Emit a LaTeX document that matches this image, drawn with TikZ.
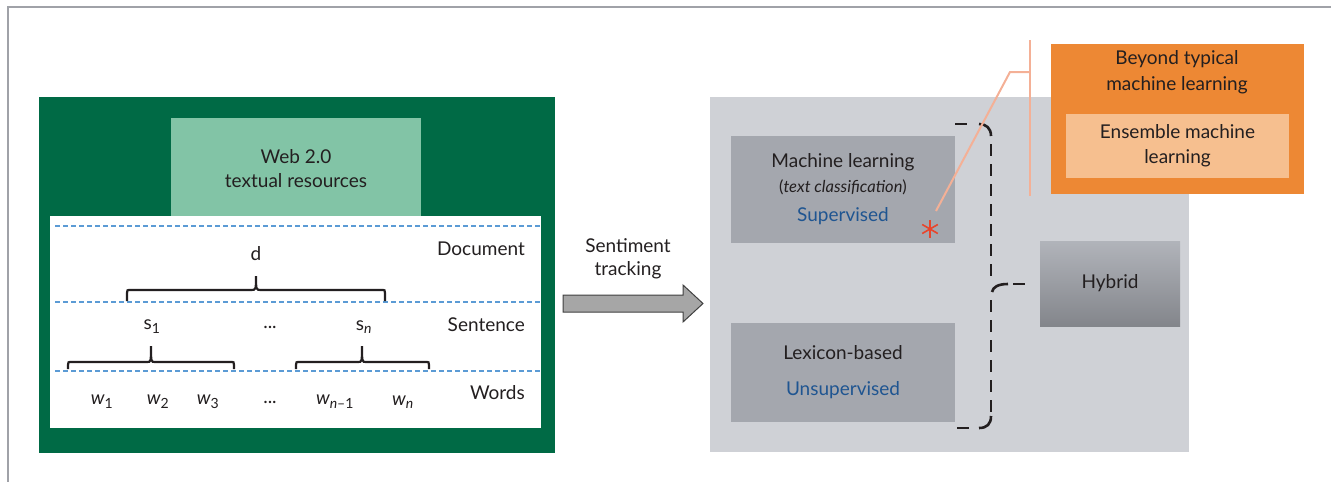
\documentclass[tikz,border=0pt]{standalone}
\usepackage{fontspec}
\setmainfont{Lato}
\usetikzlibrary{calc}
\definecolor{dgreen}{RGB}{0,106,69}
\definecolor{lgreen}{RGB}{130,196,166}
\definecolor{panel}{RGB}{207,209,214}
\definecolor{boxgray}{RGB}{164,167,174}
\definecolor{txt}{RGB}{35,31,32}
\definecolor{blu}{RGB}{31,85,145}
\definecolor{dashblue}{RGB}{91,155,213}
\definecolor{orng}{RGB}{237,136,52}
\definecolor{lorng}{RGB}{246,191,143}
\definecolor{lineorng}{RGB}{244,176,150}
\definecolor{astred}{RGB}{232,69,44}
\definecolor{framegray}{RGB}{160,162,168}
\begin{document}
\begin{tikzpicture}[x=1pt,y=-1pt,
  txtf/.style={text=txt,font=\fontsize{19}{23}\selectfont,inner sep=0pt,align=center},
  lvl/.style={dashblue,line width=1.8pt,dash pattern=on 5pt off 3pt},
  brc/.style={line width=2.2pt,txt},
  dbrc/.style={line width=2.6pt,txt,dash pattern=on 12pt off 8pt,line cap=butt},
  sbrc/.style={line width=2.6pt,txt,line cap=butt},
  boxf/.style={fill=boxgray,draw=none}]
\useasboundingbox (0,0) rectangle (1331,482);
% frame
\draw[framegray,line width=1.5pt] (8,482) -- (8,7) -- (1331,7);
% left: green
\fill[dgreen] (39,97) rectangle (555,453);
\node[fill=lgreen,minimum width=250pt,minimum height=98pt,anchor=north west,inner sep=0pt] (web) at (171,118) {};
\node[txtf] at (296,157) {Web 2.0};
\node[txtf] at (296,181) {textual resources};
\node[fill=white,minimum width=491pt,minimum height=212pt,anchor=north west,inner sep=0pt] (levels) at (50,216) {};
\draw[lvl] (55,226) -- (540,226);
\draw[lvl] (55,302) -- (540,302);
\draw[lvl] (55,371) -- (540,371);
\node[txtf,anchor=east] (doc) at (525,249) {Document};
\node[txtf,anchor=east] (sen) at (525,325) {Sentence};
\node[txtf,anchor=east] (wor) at (525,393) {Words};
\node[txtf] (d) at (256,254) {d};
\draw[brc] (127,301) -- (127,293) .. controls (127,290) .. (131,290) -- (251,290) .. controls (256,290) .. (256,276) .. controls (256,290) .. (261,290) -- (381,290) .. controls (385,290) .. (385,293) -- (385,301);
\node[txtf] (s1) at (152,327) {s\textsubscript{\fontsize{14}{14}\selectfont 1}};
\node[txtf] (sd) at (270,327) {...};
\node[txtf] (sn) at (364,327) {s\textsubscript{\fontsize{14}{14}\selectfont\itshape n}};
\draw[brc] (68,369) -- (68,365) .. controls (68,362) .. (72,362) -- (147,362) .. controls (151,362) .. (151,346) .. controls (151,362) .. (155,362) -- (230,362) .. controls (234,362) .. (234,365) -- (234,369);
\draw[brc] (296,369) -- (296,365) .. controls (296,362) .. (300,362) -- (358,362) .. controls (362,362) .. (362,346) .. controls (362,362) .. (366,362) -- (425,362) .. controls (429,362) .. (429,365) -- (429,369);
\node[txtf] (w1) at (102,402) {\itshape w\textsubscript{\upshape\fontsize{14}{14}\selectfont 1}};
\node[txtf] (w2) at (158,402) {\itshape w\textsubscript{\upshape\fontsize{14}{14}\selectfont 2}};
\node[txtf] (w3) at (208,402) {\itshape w\textsubscript{\upshape\fontsize{14}{14}\selectfont 3}};
\node[txtf] (wd) at (270,402) {...};
\node[txtf] (wn1) at (335,402) {\itshape w\textsubscript{\fontsize{14}{14}\selectfont n\upshape\textendash1}};
\node[txtf] (wn) at (403,402) {\itshape w\textsubscript{\fontsize{14}{14}\selectfont n}};
% arrow
\node[txtf] (st) at (628,259) {Sentiment\\tracking};
\draw[fill=gray!70,draw=black!75,line width=1pt,line join=miter] (563,295) -- (683,295) -- (683,285) -- (703,303.5) -- (683,322) -- (683,312) -- (563,312) -- cycle;
% right panel
\fill[panel] (710,97) rectangle (1189,452);
\node[boxf,minimum width=224pt,minimum height=107pt,anchor=north west,inner sep=0pt] (ml) at (731,136) {};
\node[txtf] at (843,162) {Machine learning};
\node[txtf,font=\fontsize{16.5}{19}\selectfont] at (843,187) {(\textit{text classification})};
\node[txtf,text=blu] at (843,216) {Supervised};
\node[boxf,minimum width=224pt,minimum height=99pt,anchor=north west,inner sep=0pt] (lex) at (731,323) {};
\node[txtf] at (843,353) {Lexicon-based};
\node[txtf,text=blu] at (843,390) {Unsupervised};
% hybrid
\node[top color=boxgray!70!panel,bottom color=boxgray!80!black,minimum width=140pt,minimum height=85pt,anchor=north west,inner sep=0pt] (hyb) at (1040,241) {};
\node[txtf] at (1110,283) {Hybrid};
% dashed brace
\draw[dbrc] (955,124) -- (969,124);
\draw[sbrc] (979,124) .. controls (986,124) and (991,128) .. (991,136);
\draw[dbrc] (991,144) -- (991,276);
\draw[sbrc] (992,292) .. controls (993,287) and (998,284) .. (1008,284);
\draw[dbrc] (1013,284) -- (1026,284);
\draw[dbrc] (991,300) -- (991,416);
\draw[sbrc] (991,416) .. controls (991,424) and (987,428) .. (979,428);
\draw[dbrc] (969,428) -- (955,428);
% orange box
\fill[orng] (1051,44) rectangle (1304,194);
\node[txtf] at (1177,59) {Beyond typical};
\node[txtf] at (1177,85) {machine learning};
\node[fill=lorng,minimum width=223pt,minimum height=64pt,anchor=north west,inner sep=0pt] (ens) at (1066,114) {};
\node[txtf] at (1177.5,132) {Ensemble machine};
\node[txtf] at (1177.5,158) {learning};
% orange callout
\coordinate (knee) at (1010,72);
\coordinate (bar) at (1030,72);
\draw[lineorng,line width=2pt] (1030,40) -- (1030,196);
\draw[lineorng,line width=2pt] (936,211) -- (knee) -- (bar);
% asterisk
\begin{scope}[astred,line width=1.6pt]
\coordinate (ast) at (930,229);
\draw ($(ast)+(0,-9)$) -- ($(ast)+(0,9)$);
\draw ($(ast)+(-7.8,-4.5)$) -- ($(ast)+(7.8,4.5)$);
\draw ($(ast)+(-7.8,4.5)$) -- ($(ast)+(7.8,-4.5)$);
\end{scope}
\end{tikzpicture}
\end{document}
